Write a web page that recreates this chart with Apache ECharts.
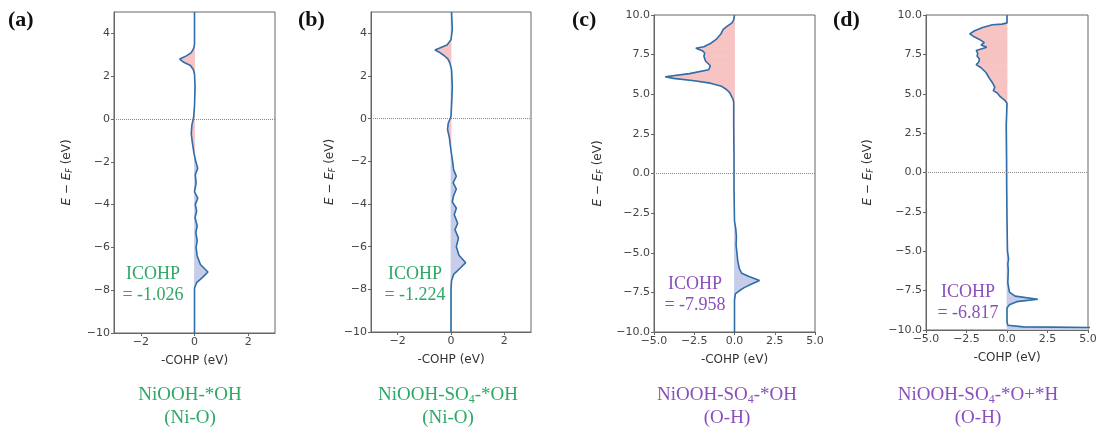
<!DOCTYPE html>
<html>
<head>
<meta charset="utf-8">
<script src="https://cdn.jsdelivr.net/npm/echarts@6/dist/echarts.min.js"></script>
<style>
html,body{margin:0;padding:0;background:#fff;}
#chart{width:1101px;height:430px;}
</style>
</head>
<body>
<div id="chart"></div>
<script>
// ---------- data ----------
const panelLetters = ['(a)', '(b)', '(c)', '(d)'];
const icohpValues = ['-1.026', '-1.224', '-7.958', '-6.817'];
const captionLine1 = ['NiOOH-*OH', 'NiOOH-SO4-*OH', 'NiOOH-SO4-*OH', 'NiOOH-SO4-*O+*H'];
const captionLine2 = ['(Ni-O)', '(Ni-O)', '(O-H)', '(O-H)'];
const xTicksAB = [-2, 0, 2];

// energies (E - E_F, eV) and -COHP values (eV)
const energyA = [5.0, 3.5, 3.3, 3.1, 2.95, 2.8, 2.65, 2.5, 2.3, 2.1, 1.5, 0.6, 0.1, -0.3, -0.7, -1.1, -1.6, -2.0, -2.3, -2.6, -3.0, -3.4, -3.7, -4.0, -4.3, -4.6, -5.0, -5.3, -5.7, -6.0, -6.4, -6.8, -7.15, -7.4, -7.65, -7.9, -10.0];
const cohpA = [0.0, 0.0, -0.03, -0.12, -0.3, -0.55, -0.4, -0.15, -0.04, 0.0, 0.02, 0.0, -0.03, -0.1, -0.12, -0.08, -0.02, 0.05, 0.12, 0.03, 0.06, 0.0, 0.12, 0.03, 0.08, 0.02, 0.1, 0.05, 0.1, 0.06, 0.1, 0.22, 0.5, 0.3, 0.08, 0.0, 0.0];

const energyB = [5.0, 4.2, 3.7, 3.45, 3.32, 3.22, 3.1, 2.95, 2.8, 2.6, 2.3, 1.5, 0.6, 0.1, -0.2, -0.5, -0.9, -1.5, -2.0, -2.4, -2.7, -3.0, -3.3, -3.6, -3.9, -4.2, -4.5, -4.9, -5.2, -5.6, -6.0, -6.4, -6.75, -7.0, -7.3, -7.6, -8.0, -10.0];
const cohpB = [0.02, 0.05, 0.0, -0.15, -0.4, -0.6, -0.42, -0.25, -0.12, -0.04, 0.02, 0.05, 0.02, 0.0, -0.1, -0.13, -0.06, 0.0, 0.06, 0.1, 0.2, 0.08, 0.2, 0.1, 0.05, 0.2, 0.12, 0.25, 0.15, 0.28, 0.2, 0.3, 0.55, 0.35, 0.1, 0.02, 0.0, 0.0];

const energyC = [10.0, 9.7, 9.5, 9.3, 9.1, 8.8, 8.5, 8.2, 8.0, 7.9, 7.75, 7.6, 7.4, 7.1, 6.8, 6.55, 6.3, 6.1, 6.0, 5.85, 5.7, 5.5, 5.3, 5.1, 4.9, 4.7, 4.5, 3.0, 1.0, -1.0, -3.0, -3.5, -4.0, -4.5, -5.0, -5.5, -6.0, -6.3, -6.5, -6.75, -7.0, -7.2, -7.4, -7.6, -8.0, -10.0];
const cohpC = [0.0, -0.05, -0.15, -0.45, -0.7, -0.85, -1.1, -1.5, -1.9, -2.4, -2.0, -1.85, -1.9, -1.8, -1.5, -1.6, -2.8, -4.3, -3.8, -2.5, -1.5, -0.8, -0.5, -0.3, -0.2, -0.1, -0.05, -0.05, -0.03, -0.03, 0.0, 0.08, 0.12, 0.1, 0.15, 0.2, 0.3, 0.45, 0.9, 1.55, 1.0, 0.6, 0.3, 0.05, 0.0, 0.0];

const energyD = [10.0, 9.5, 9.42, 9.38, 9.2, 9.0, 8.8, 8.6, 8.45, 8.25, 8.1, 7.95, 7.75, 7.55, 7.4, 7.2, 7.0, 6.85, 6.65, 6.35, 6.0, 5.7, 5.4, 5.2, 5.05, 4.8, 4.6, 4.4, 3.0, 1.0, -1.0, -3.0, -5.0, -5.5, -5.8, -6.2, -7.0, -7.6, -7.85, -8.05, -8.2, -8.4, -8.6, -9.5, -9.7, -9.8, -9.85, -10.0];
const cohpD = [0.0, 0.0, -0.3, -0.9, -1.5, -2.0, -2.3, -2.0, -1.7, -1.4, -1.6, -1.25, -1.9, -1.8, -1.85, -1.7, -1.75, -1.9, -1.6, -1.3, -1.1, -0.9, -0.75, -0.85, -0.6, -0.4, -0.15, 0.0, -0.05, -0.03, -0.02, 0.0, 0.03, 0.1, 0.05, 0.08, 0.05, 0.15, 0.5, 1.9, 0.6, 0.15, 0.0, 0.0, 0.05, 1.0, 6.0, 6.0];

const energies = [energyA, energyB, energyC, energyD];
const cohps = [cohpA, cohpB, cohpC, cohpD];

// ---------- layout / style ----------
const grids = [
  {left: 114, top: 12, width: 161, height: 321},
  {left: 371, top: 12, width: 160, height: 320},
  {left: 654, top: 15, width: 161, height: 317},
  {left: 926, top: 15, width: 162, height: 315}
];
const yNameGaps = [40, 34, 49, 51];
const textColors = ['#2ea866', '#2ea866', '#8a4fbd', '#8a4fbd'];
const icohpPos = [[153, 285], [415, 285], [695, 295], [968, 303]];
const captionX = [190, 448, 727, 978];
const letterPos = [[25, 22], [315, 22], [589, 22], [850, 22]];
const lineColor = '#2f6ea8';
const posFill = '#c7cde8';
const negFill = '#f8c3c3';
const axisColor = '#666';
const tickFont = {fontFamily: 'DejaVu Sans', fontSize: 11, color: '#444'};
const minus = s => String(s).replace('-', '\u2212');

const chart = echarts.init(document.getElementById('chart'), null, {renderer: 'canvas'});

const xAxes = [], yAxes = [], series = [], graphics = [];
for (let i = 0; i < 4; i++) {
  const ab = i < 2;
  xAxes.push({
    type: 'value', gridIndex: i,
    min: ab ? -3 : -5, max: ab ? 3 : 5, interval: ab ? 1 : 2.5,
    name: '-COHP (eV)', nameLocation: 'middle', nameGap: 22,
    nameTextStyle: {fontFamily: 'DejaVu Sans', fontSize: 12, color: '#333'},
    axisLine: {show: true, onZero: false, lineStyle: {color: axisColor}},
    axisTick: ab ? {show: true, length: 3, customValues: xTicksAB, lineStyle: {color: axisColor}}
                 : {show: true, length: 3, lineStyle: {color: axisColor}},
    axisLabel: Object.assign({margin: 4, showMinLabel: true, showMaxLabel: true,
      formatter: v => minus(ab ? String(v) : v.toFixed(1))},
      ab ? {customValues: xTicksAB} : {}, tickFont),
    splitLine: {show: false}
  });
  yAxes.push({
    type: 'value', gridIndex: i,
    min: -10, max: ab ? 5 : 10, interval: ab ? 2 : 2.5,
    name: '{i|E} \u2212 {i|E}{s|F} (eV)', nameLocation: 'middle', nameGap: yNameGaps[i], nameRotate: 90,
    nameTextStyle: {fontFamily: 'DejaVu Sans', fontSize: 12, color: '#333',
      rich: {i: {fontStyle: 'italic', fontFamily: 'DejaVu Sans', fontSize: 12, color: '#333'},
             s: {fontStyle: 'italic', fontFamily: 'DejaVu Sans', fontSize: 8, color: '#333', verticalAlign: 'bottom', padding: [6, 0, 0, 0]}}},
    axisLine: {show: true, onZero: false, lineStyle: {color: axisColor}},
    axisTick: {show: true, length: 3, lineStyle: {color: axisColor}},
    axisLabel: Object.assign({margin: 4, showMaxLabel: !ab,
      formatter: v => minus(ab ? String(v) : v.toFixed(1))}, tickFont),
    splitLine: {show: false}
  });

  const E = energies[i], V = cohps[i];
  const segs = [];
  for (let k = 0; k < E.length - 1; k++) segs.push([E[k], V[k], E[k + 1], V[k + 1]]);

  series.push({
    type: 'custom', xAxisIndex: i, yAxisIndex: i, clip: true, z: 1, silent: true,
    encode: {x: [1, 3], y: [0, 2]},
    data: segs,
    renderItem: function (params, api) {
      const e0 = api.value(0), v0 = api.value(1), e1 = api.value(2), v1 = api.value(3);
      const poly = (pts, col) => ({type: 'polygon', shape: {points: pts.map(p => api.coord(p))},
        style: {fill: col, stroke: col, lineWidth: 0.8}});
      const children = [];
      if (v0 * v1 < 0) {
        const t = v0 / (v0 - v1), em = e0 + t * (e1 - e0);
        children.push(poly([[0, e0], [v0, e0], [0, em]], v0 > 0 ? posFill : negFill));
        children.push(poly([[0, em], [v1, e1], [0, e1]], v1 > 0 ? posFill : negFill));
      } else {
        const col = (v0 + v1) >= 0 ? posFill : negFill;
        children.push(poly([[0, e0], [v0, e0], [v1, e1], [0, e1]], col));
      }
      return {type: 'group', children: children};
    }
  });
  series.push({
    type: 'line', xAxisIndex: i, yAxisIndex: i, z: 3, silent: true,
    data: E.map((e, k) => [V[k], e]),
    showSymbol: false, symbol: 'none', smooth: false, clip: true,
    lineStyle: {color: lineColor, width: 1.6},
    markLine: {silent: true, symbol: 'none', label: {show: false},
      lineStyle: {color: '#888', type: 'dotted', width: 1},
      data: [{yAxis: 0}]}
  });

  // panel letters
  graphics.push({type: 'text', left: letterPos[i][0] - 17, top: letterPos[i][1] - 13,
    style: {text: panelLetters[i], font: 'bold 22px "Liberation Serif"', fill: '#111'}});
  // ICOHP annotation
  graphics.push({type: 'text', x: icohpPos[i][0], y: icohpPos[i][1],
    style: {text: 'ICOHP\n= ' + icohpValues[i], font: '18px "Liberation Serif"', fill: textColors[i],
      align: 'center', verticalAlign: 'middle', lineHeight: 21}});
  // captions (SO4 with subscript 4)
  const parts = captionLine1[i].split('SO4');
  const capText = parts.length > 1
    ? '{m|' + parts[0] + 'SO}{s|4}{m|' + parts[1] + '}'
    : '{m|' + parts[0] + '}';
  graphics.push({type: 'text', x: captionX[i], y: 395,
    style: {text: capText, align: 'center', verticalAlign: 'middle',
      rich: {m: {font: '19px "Liberation Serif"', fill: textColors[i]},
             s: {font: '12px "Liberation Serif"', fill: textColors[i], padding: [9, 0, 0, 0]}}}});
  graphics.push({type: 'text', x: captionX[i], y: 418,
    style: {text: captionLine2[i], font: '19px "Liberation Serif"', fill: textColors[i],
      align: 'center', verticalAlign: 'middle'}});
}

chart.setOption({
  animation: false,
  backgroundColor: '#fff',
  grid: grids.map(g => Object.assign({show: true, borderColor: axisColor, borderWidth: 1, backgroundColor: 'transparent', outerBoundsMode: 'none'}, g)),
  xAxis: xAxes,
  yAxis: yAxes,
  series: series,
  graphic: graphics
});
</script>
</body>
</html>
